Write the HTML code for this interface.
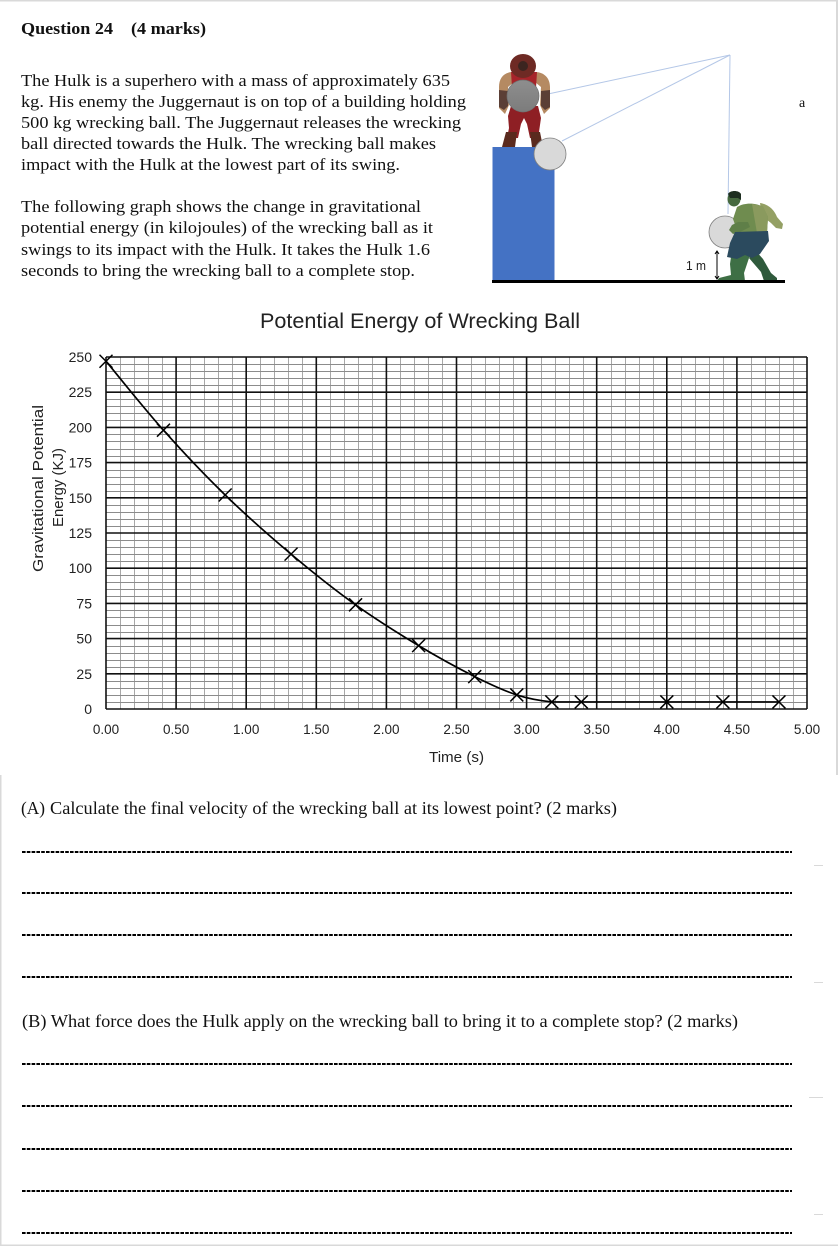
<!DOCTYPE html>
<html lang="en">
<head>
<meta charset="utf-8">
<title>Question 24 - Potential Energy of Wrecking Ball</title>
<style>
html,body{margin:0;padding:0;background:#fff;width:838px;height:1246px;overflow:hidden}
svg{display:block}
.s{font-family:"Liberation Serif",serif;fill:#111}
.c{font-family:"Liberation Sans",sans-serif;fill:#222}
</style>
</head>
<body>
<svg id="page" width="838" height="1246" viewBox="0 0 838 1246" xmlns="http://www.w3.org/2000/svg">
<defs>
<linearGradient id="gball" x1="0" y1="0" x2="0" y2="1"><stop offset="0" stop-color="#8e8e8e"/><stop offset="1" stop-color="#7c7c7c"/></linearGradient>
</defs>
<rect width="838" height="1246" fill="#fff"/>
<g fill="#d9d9d9">
<rect x="0" y="0" width="838" height="1.5"/><rect x="836" y="0" width="2" height="775"/>
<rect x="0" y="775" width="1.5" height="471"/><rect x="0" y="1244.5" width="838" height="1.5"/>
<rect x="814" y="865" width="9" height="1"/><rect x="814" y="982" width="9" height="1"/>
<rect x="809" y="1097" width="14" height="1"/><rect x="814" y="1214" width="9" height="1"/>
</g>

<g class="s" font-size="16.5">
<text x="21" y="34" font-weight="bold" font-size="16.5" textLength="92" lengthAdjust="spacingAndGlyphs">Question 24</text>
<text x="131" y="34" font-weight="bold" font-size="16.5" textLength="75" lengthAdjust="spacingAndGlyphs">(4 marks)</text>
<text x="21" y="86" textLength="429" lengthAdjust="spacingAndGlyphs">The Hulk is a superhero with a mass of approximately 635</text>
<text x="21" y="107" textLength="445" lengthAdjust="spacingAndGlyphs">kg. His enemy the Juggernaut is on top of a building holding</text>
<text x="21" y="128" textLength="440" lengthAdjust="spacingAndGlyphs">500 kg wrecking ball. The Juggernaut releases the wrecking</text>
<text x="21" y="149" textLength="415" lengthAdjust="spacingAndGlyphs">ball directed towards the Hulk. The wrecking ball makes</text>
<text x="21" y="170" textLength="379" lengthAdjust="spacingAndGlyphs">impact with the Hulk at the lowest part of its swing.</text>
<text x="21" y="212" textLength="400" lengthAdjust="spacingAndGlyphs">The following graph shows the change in gravitational</text>
<text x="21" y="233" textLength="412" lengthAdjust="spacingAndGlyphs">potential energy (in kilojoules) of the wrecking ball as it</text>
<text x="21" y="255" textLength="409" lengthAdjust="spacingAndGlyphs">swings to its impact with the Hulk. It takes the Hulk 1.6</text>
<text x="21" y="276" textLength="394" lengthAdjust="spacingAndGlyphs">seconds to bring the wrecking ball to a complete stop.</text>
</g>

<g>
<g fill="none" stroke="#b4c7e7" stroke-width="1">
<line x1="730" y1="55" x2="548" y2="94"/><line x1="730" y1="55" x2="562" y2="141"/><line x1="730" y1="55" x2="728" y2="214"/>
</g>
<rect x="492.5" y="147" width="62" height="134" fill="#4472c4"/>
<g>
<path d="M511 106h27l3 12-2 14 2 6h-11l-3-14-3-6-3 6-3 14h-11l2-10-1-12z" fill="#8e1f24"/>
<path d="M506 132h11l-2 15h-13zM530 132h10l3 15h-11z" fill="#5a2a1e"/>
<path d="M513 72c-9 0-14 6-14 15v21l6 6 4-9-1-18 6-5zM535 72c9 0 15 6 15 15v21l-6 6-4-9 1-18-6-5z" fill="#b58a62"/>
<path d="M499 90l9 1v15l-4 4-5-3zM550 90l-9 1v15l4 4 5-3z" fill="#5b3f36"/>
<path d="M511 72h26l-2 32h-22z" fill="#a6242a"/>
<ellipse cx="523" cy="66" rx="13" ry="12" fill="#6e2a24"/>
<ellipse cx="523" cy="66" rx="5" ry="5" fill="#3c2520"/>
</g>
<circle cx="523" cy="96" r="16" fill="url(#gball)" stroke="#6f6f6f" stroke-width="0.7"/>
<circle cx="550" cy="154" r="16" fill="#d9d9d9" stroke="#7f7f7f" stroke-width="0.8"/>
<circle cx="725" cy="232" r="16" fill="#d9d9d9" stroke="#7f7f7f" stroke-width="0.8"/>
<g>
<path d="M760 203c9 1 15 8 17 14l6 7-1 5-6-1-5-5-9-7z" fill="#94a064"/>
<path d="M732 250l-2 14 1 11-12 3-2 3h28l-1-8 6-18z" fill="#3e6f45"/>
<path d="M755 250l8 9 8 14 6 5v3h-13l-3-9-12-14z" fill="#2f5a3c"/>
<path d="M737 207c8-5 20-4 26 0l5 10-1 16-29 0-5-14z" fill="#6f8c4f"/>
<path d="M752 204l11 2 5 11-1 16h-10z" fill="#8a9a5e"/>
<path d="M738 222l-6 3-3 5 4 4 7-2 10-5-2-5z" fill="#5f7f48"/>
<path d="M735 232l33-1 1 10-9 13-8 4-7-3-8 4-10-2 3-14z" fill="#2b4a5e"/>
<ellipse cx="734" cy="199" rx="6.5" ry="7.5" fill="#46693f"/>
<path d="M728 194c2-4 11-4 13-0v6l-3-2h-8z" fill="#1e2e20"/>
</g>
<rect x="492" y="280" width="293" height="3" fill="#000"/>
<g stroke="#000" fill="none" stroke-width="1">
<line x1="717" y1="251" x2="717" y2="279"/>
<path d="M715 254l2-3 2 3M715 276l2 3 2-3"/>
</g>
<text class="c" x="686" y="270" font-size="12.5" textLength="20" lengthAdjust="spacingAndGlyphs">1 m</text>
<text class="s" x="799" y="107" font-size="14">a</text>
</g>

<g id="chart">
<text class="c" x="260" y="328" font-size="21" textLength="320" lengthAdjust="spacingAndGlyphs">Potential Energy of Wrecking Ball</text>
<g id="grid"></g>
<g id="ticks"></g>
<g id="series"></g>
<text class="c" x="429" y="762" font-size="14.5" textLength="55" lengthAdjust="spacingAndGlyphs">Time (s)</text>
<text class="c" transform="translate(43 572) rotate(-90)" font-size="14.5" textLength="167" lengthAdjust="spacingAndGlyphs">Gravitational Potential</text>
<text class="c" transform="translate(63 527) rotate(-90)" font-size="14.5" textLength="79" lengthAdjust="spacingAndGlyphs">Energy (KJ)</text>
</g>

<g>
<text class="s" x="21" y="814" font-size="18" textLength="24" lengthAdjust="spacingAndGlyphs">(A)</text>
<text class="s" x="50" y="814" font-size="18" textLength="567" lengthAdjust="spacingAndGlyphs">Calculate the final velocity of the wrecking ball at its lowest point? (2 marks)</text>
</g>
<g>
<text class="s" x="22" y="1027" font-size="18" textLength="716" lengthAdjust="spacingAndGlyphs">(B) What force does the Hulk apply on the wrecking ball to bring it to a complete stop? (2 marks)</text>
</g>
<g id="answers"></g>
</svg>

<script>
var times = [0, 0.41, 0.85, 1.32, 1.78, 2.23, 2.63, 2.93, 3.18, 3.39, 4.0, 4.4, 4.8];
var energies = [247, 198, 152, 110, 74, 45, 23, 10, 5, 5, 5, 5, 5];
var xTickLabels = ["0.00", "0.50", "1.00", "1.50", "2.00", "2.50", "3.00", "3.50", "4.00", "4.50", "5.00"];
var yTickLabels = ["0", "25", "50", "75", "100", "125", "150", "175", "200", "225", "250"];
var answerLineRows = [852, 893, 935, 977, 1064, 1106, 1149, 1191, 1233];

var NS = 'http://www.w3.org/2000/svg';
var plot = {left: 106, right: 807, top: 357, bottom: 709};
var xMax = 5, yMax = 250, minorPerMajor = 5;
function xScale(v) { return plot.left + (plot.right - plot.left) * v / xMax; }
function yScale(v) { return plot.bottom - (plot.bottom - plot.top) * v / yMax; }
function snap(p) { return Math.round(p) + 0.5; }
function make(tag, props, parent) {
  var el = document.createElementNS(NS, tag);
  for (var k in props) el.setAttribute(k, props[k]);
  parent.appendChild(el);
  return el;
}
var grid = document.getElementById('grid');
var ticks = document.getElementById('ticks');
var series = document.getElementById('series');
var answers = document.getElementById('answers');
var xStep = xMax / (xTickLabels.length - 1);
var yStep = yMax / (yTickLabels.length - 1);
var i, j, el;

for (i = 0; i < xTickLabels.length - 1; i++) {
  for (j = 1; j < minorPerMajor; j++) {
    var xm = snap(xScale((i + j / minorPerMajor) * xStep));
    el = make('line', {x1: xm, x2: xm, y1: plot.top, y2: plot.bottom, stroke: '#a8a8a8', 'stroke-width': 1}, grid);
    
    
  }
}
for (i = 0; i < yTickLabels.length - 1; i++) {
  for (j = 1; j < minorPerMajor; j++) {
    var ym = snap(yScale((i + j / minorPerMajor) * yStep));
    el = make('line', {x1: plot.left, x2: plot.right, y1: ym, y2: ym, stroke: '#8c8c8c', 'stroke-width': 1}, grid);
    
    
  }
}
for (i = 0; i < xTickLabels.length; i++) {
  var xp = xScale(i * xStep);
  el = make('line', {x1: xp, x2: xp, y1: plot.top, y2: plot.bottom, stroke: '#111', 'stroke-width': 1.6}, grid);
  
  
  el = make('text', {x: xp, y: 734, 'text-anchor': 'middle', 'font-size': 13.5, 'class': 'c'}, ticks);
  
  
  el.textContent = xTickLabels[i];
}
for (i = 0; i < yTickLabels.length; i++) {
  var yp = yScale(i * yStep);
  el = make('line', {x1: plot.left, x2: plot.right, y1: yp, y2: yp, stroke: '#111', 'stroke-width': 1.6}, grid);
  
  
  el = make('text', {x: 92, y: yp + 5, 'text-anchor': 'end', 'font-size': 14, 'class': 'c'}, ticks);
  
  
  el.textContent = yTickLabels[i];
}

var pts = times.map(function (t, n) { return [xScale(t), yScale(energies[n])]; });
var d = 'M' + pts[0][0] + ' ' + pts[0][1];
for (i = 0; i < pts.length - 1; i++) {
  var p0 = pts[Math.max(i - 1, 0)], p1 = pts[i], p2 = pts[i + 1], p3 = pts[Math.min(i + 2, pts.length - 1)];
  var c1y = Math.max(Math.min(p1[1] + (p2[1] - p0[1]) / 6, p2[1]), p1[1]);
  var c2y = Math.max(Math.min(p2[1] - (p3[1] - p1[1]) / 6, p2[1]), p1[1]);
  d += 'C' + (p1[0] + (p2[0] - p0[0]) / 6) + ' ' + c1y + ' ' + (p2[0] - (p3[0] - p1[0]) / 6) + ' ' + c2y + ' ' + p2[0] + ' ' + p2[1];
}
el = make('path', {d: d, fill: 'none', stroke: '#000', 'stroke-width': 1.7}, series);



pts.forEach(function (p) {
  var s = 6.5;
  var mark = make('path', {d: 'M' + (p[0] - s) + ' ' + (p[1] - s) + 'L' + (p[0] + s) + ' ' + (p[1] + s) + 'M' + (p[0] - s) + ' ' + (p[1] + s) + 'L' + (p[0] + s) + ' ' + (p[1] - s), fill: 'none', stroke: '#000', 'stroke-width': 1.5}, series);
  
  
});

answerLineRows.forEach(function (row) {
  var line = make('line', {x1: 22, x2: 792, y1: row, y2: row, stroke: '#000', 'stroke-width': 2, 'stroke-dasharray': '3.6 1.2'}, answers);
  
  
});
</script>
</body>
</html>
